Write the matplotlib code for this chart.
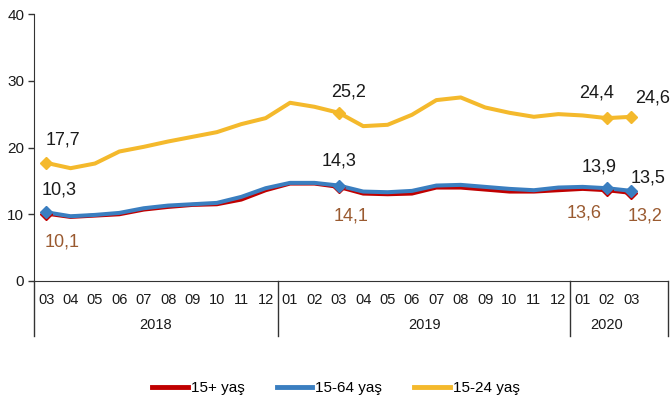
import numpy as np
import matplotlib.pyplot as plt
import matplotlib.transforms as mtransforms
from matplotlib.lines import Line2D

plt.rcParams['font.family'] = ['Liberation Sans', 'DejaVu Sans']

# data
months = ['03', '04', '05', '06', '07', '08', '09', '10', '11', '12',
          '01', '02', '03', '04', '05', '06', '07', '08', '09', '10', '11', '12',
          '01', '02', '03']
years = ['2018', '2019', '2020']
year_spans = [(0, 9), (10, 21), (22, 24)]   # index range of months per year

y_15plus = [10.1, 9.6, 9.8, 10.0, 10.7, 11.1, 11.4, 11.5, 12.2, 13.6,
            14.6, 14.6, 14.1, 13.1, 13.0, 13.1, 14.0, 14.0, 13.7, 13.4, 13.4, 13.6,
            13.8, 13.6, 13.2]
y_15_64 = [10.3, 9.7, 9.9, 10.2, 10.9, 11.3, 11.5, 11.7, 12.6, 13.9,
           14.7, 14.7, 14.3, 13.4, 13.3, 13.5, 14.3, 14.4, 14.1, 13.8, 13.6, 14.0,
           14.1, 13.9, 13.5]
y_15_24 = [17.7, 16.9, 17.6, 19.4, 20.1, 20.9, 21.6, 22.3, 23.5, 24.4,
           26.7, 26.1, 25.2, 23.2, 23.4, 24.9, 27.1, 27.5, 26.0, 25.2, 24.6, 25.0,
           24.8, 24.4, 24.6]

marked = [0, 12, 23, 24]   # points with diamond marker and value label

labels = ['15+ yaş', '15-64 yaş', '15-24 yaş']
colors = ['#C00000', '#3A7EC0', '#F4B92C']

# label offsets in pixels (dx, dy) for each marked point
off_15plus = [(16, -28), (12, -29), (-23, -23), (14, -23)]
off_15_64 = [(13, 22), (0, 25), (-8, 21), (17, 13)]
off_15_24 = [(17, 23), (10, 21), (-10, 25), (21, 19)]

fig = plt.figure(figsize=(6.72, 4.05), dpi=100)
ax = fig.add_axes([34/672, 1 - 281/405, 634/672, 267/405])

x = np.arange(len(months))
series = [y_15plus, y_15_64, y_15_24]
offsets = [off_15plus, off_15_64, off_15_24]
txt_colors = ['#9A5A30', '#1a1a1a', '#1a1a1a']

for ys, c, offs, tc in zip(series, colors, offsets, txt_colors):
    ax.plot(x, ys, color=c, lw=2.9, solid_joinstyle='round', zorder=3)
    ax.plot(x[marked], np.array(ys)[marked], ls='none', marker='D', ms=6.5,
            color=c, zorder=4)
    for i, (dx, dy) in zip(marked, offs):
        ax.annotate(f'{ys[i]:.1f}'.replace('.', ','), (x[i], ys[i]),
                    xytext=(dx, dy), textcoords='offset pixels',
                    ha='center', va='center', fontsize=13, color=tc)

ax.set_xlim(-0.5, len(months) + 0.5)
ax.set_ylim(0, 40)
ax.set_yticks([0, 10, 20, 30, 40])
ax.tick_params(axis='y', labelsize=11, length=4, width=1, color='#333333',
               labelcolor='#1a1a1a', pad=3)
ax.set_xticks(x)
ax.set_xticklabels(months)
ax.tick_params(axis='x', length=0, labelsize=10.5, pad=9, labelcolor='#1a1a1a')

for s in ['top', 'right']:
    ax.spines[s].set_visible(False)
ax.spines['left'].set_color('#333333')
ax.spines['bottom'].set_color('#333333')

# category table lines under the axis
trans = mtransforms.blended_transform_factory(ax.transData, ax.transAxes)
for b in [-0.5, 9.5, 21.5, len(months) + 0.5]:
    ax.plot([b, b], [0, -0.205], transform=trans, color='#333333', lw=1,
            clip_on=False)
for yr, (a, b) in zip(years, year_spans):
    ax.text((a + b) / 2, -0.165, yr, transform=trans, ha='center', va='center',
            fontsize=10.5, color='#1a1a1a')

handles = [Line2D([], [], color=c, lw=3.5) for c in colors]
fig.legend(handles, labels, loc='center', bbox_to_anchor=(0.5, 1 - 388/405),
           ncol=3, frameon=False, fontsize=11, handlelength=2.35,
           handletextpad=0.2, columnspacing=2.1)

fig.savefig('out.png', dpi=100)
